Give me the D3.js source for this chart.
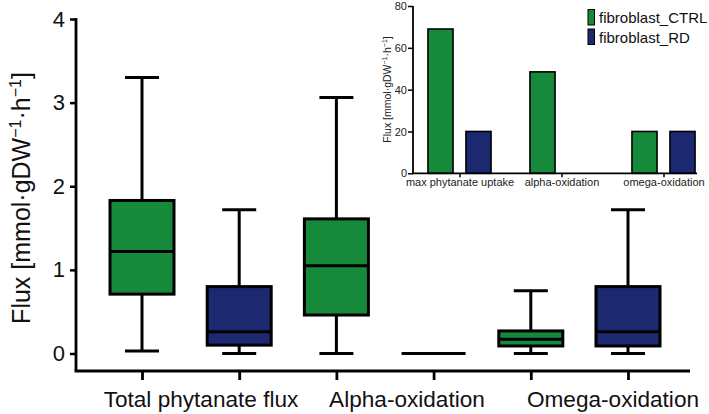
<!DOCTYPE html>
<html><head><meta charset="utf-8">
<script src="https://cdn.jsdelivr.net/npm/d3@7"></script>
<style>
html,body{margin:0;padding:0;background:#fff;}
svg{display:block;font-family:"Liberation Sans",Arial,sans-serif;}
</style></head>
<body>
<svg id="chart" width="709" height="414"></svg>
<script>
// ---- main box plot data ----
const boxKeys = ["Total_CTRL","Total_RD","Alpha_CTRL","Alpha_RD","Omega_CTRL","Omega_RD"];
const boxSeries = ["CTRL","RD","CTRL","RD","CTRL","RD"];
const groupLabels = ["Total phytanate flux","Alpha-oxidation","Omega-oxidation"];
const whiskerLow  = [0.03, 0.00, 0.00, 0.00, 0.00, 0.00];
const q1          = [0.71, 0.10, 0.46, 0.00, 0.09, 0.09];
const median      = [1.22, 0.26, 1.05, 0.00, 0.17, 0.26];
const q3          = [1.83, 0.80, 1.61, 0.00, 0.27, 0.80];
const whiskerHigh = [3.30, 1.72, 3.06, 0.00, 0.75, 1.72];
const yTicks = [0,1,2,3,4];

// ---- inset bar chart data ----
const insetCategories = ["max phytanate uptake","alpha-oxidation","omega-oxidation"];
const insetSeries = ["fibroblast_CTRL","fibroblast_RD"];
const insetCTRL = [69, 48.5, 20];
const insetRD   = [20, 0, 20];
const insetTicks = [0,20,40,60,80];

const colors = {CTRL:"#17893b", RD:"#1c2870", fibroblast_CTRL:"#17893b", fibroblast_RD:"#1c2870"};

const svg = d3.select("#chart");

// ===== main chart =====
const x = d3.scalePoint().domain(boxKeys).range([142, 628]);
const y = d3.scaleLinear().domain([0,4]).range([353.5, 19]);
const boxW = 64, capW = 34, sw = 3;

// axes
const yAxis = svg.append("g").attr("transform","translate(76,0)")
  .call(d3.axisLeft(y).tickValues(yTicks).tickSize(6).tickPadding(5).tickFormat(d3.format("d")));
yAxis.select(".domain").remove();
yAxis.selectAll(".tick line").attr("stroke","#000").attr("stroke-width",2.5);
yAxis.selectAll(".tick text").attr("font-size",22).attr("fill","#111")
  .attr("font-family","Liberation Sans, Arial, sans-serif");
svg.append("line").attr("x1",76).attr("x2",76).attr("y1",y(4)-1).attr("y2",371)
  .attr("stroke","#000").attr("stroke-width",2.8);

const xAxis = svg.append("g").attr("transform","translate(0,371)")
  .call(d3.axisBottom(x).tickSize(9).tickFormat(""));
xAxis.select(".domain").remove();
xAxis.selectAll(".tick line").attr("stroke","#000").attr("stroke-width",2.8);
svg.append("line").attr("x1",74.6).attr("x2",690).attr("y1",371).attr("y2",371)
  .attr("stroke","#000").attr("stroke-width",2.8);

const xg = d3.scalePoint().domain(groupLabels).range([201, 613]);
svg.append("g").selectAll("text").data(groupLabels).join("text")
  .attr("x", d => xg(d)).attr("y", 407).attr("text-anchor","middle")
  .attr("font-size",22.6).attr("fill","#111").text(d => d);

// y label
const yl = svg.append("text").attr("transform","translate(30,198) rotate(-90)")
  .attr("text-anchor","middle").attr("font-size",25).attr("fill","#111");
yl.append("tspan").text("Flux [mmol·gDW");
yl.append("tspan").attr("font-size",16).attr("dy",-9).text("−1");
yl.append("tspan").attr("dy",9).text("·h");
yl.append("tspan").attr("font-size",16).attr("dy",-9).text("−1");
yl.append("tspan").attr("dy",9).text("]");

// boxes
const boxes = svg.append("g").selectAll("g").data(boxKeys).join("g");
boxes.each(function(k,i){
  const g = d3.select(this), cx = x(k);
  g.append("line").attr("x1",cx).attr("x2",cx).attr("y1",y(whiskerHigh[i])).attr("y2",y(q3[i]))
    .attr("stroke","#000").attr("stroke-width",sw);
  g.append("line").attr("x1",cx).attr("x2",cx).attr("y1",y(q1[i])).attr("y2",y(whiskerLow[i]))
    .attr("stroke","#000").attr("stroke-width",sw);
  g.append("line").attr("x1",cx-capW/2).attr("x2",cx+capW/2).attr("y1",y(whiskerHigh[i])).attr("y2",y(whiskerHigh[i]))
    .attr("stroke","#000").attr("stroke-width",sw);
  g.append("line").attr("x1",cx-capW/2).attr("x2",cx+capW/2).attr("y1",y(whiskerLow[i])).attr("y2",y(whiskerLow[i]))
    .attr("stroke","#000").attr("stroke-width",sw);
  if (q3[i] > q1[i]) {
    g.append("rect").attr("x",cx-boxW/2).attr("width",boxW)
      .attr("y",y(q3[i])).attr("height",y(q1[i])-y(q3[i]))
      .attr("fill",colors[boxSeries[i]]).attr("stroke","#000").attr("stroke-width",sw);
  }
  g.append("line").attr("x1",cx-boxW/2).attr("x2",cx+boxW/2).attr("y1",y(median[i])).attr("y2",y(median[i]))
    .attr("stroke","#000").attr("stroke-width",sw);
});

// ===== inset =====
const ix0 = d3.scalePoint().domain(insetCategories).range([459.5, 663.5]);
const ix1 = d3.scaleBand().domain(insetSeries).range([-38,38]).paddingInner(0.34).paddingOuter(0.17);
const iy = d3.scaleLinear().domain([0,80]).range([173.3, 6]);

const insetData = [];
insetCategories.forEach((c,i)=>{
  insetData.push({c, s:insetSeries[0], v:insetCTRL[i]});
  insetData.push({c, s:insetSeries[1], v:insetRD[i]});
});
svg.append("g").selectAll("rect").data(insetData.filter(d=>d.v>0)).join("rect")
  .attr("x", d => ix0(d.c)+ix1(d.s)).attr("width", ix1.bandwidth())
  .attr("y", d => iy(d.v)).attr("height", d => iy(0)-iy(d.v))
  .attr("fill", d => colors[d.s]).attr("stroke","#000").attr("stroke-width",1.6);

const iyAxis = svg.append("g").attr("transform","translate(413,0)")
  .call(d3.axisLeft(iy).tickValues(insetTicks).tickSize(5).tickPadding(1));
iyAxis.select(".domain").remove();
iyAxis.selectAll(".tick line").attr("stroke","#000").attr("stroke-width",1.5);
iyAxis.selectAll(".tick text").attr("font-size",11).attr("fill","#222");
svg.append("line").attr("x1",413).attr("x2",413).attr("y1",iy(80)).attr("y2",iy(0))
  .attr("stroke","#000").attr("stroke-width",1.8);
svg.append("line").attr("x1",412).attr("x2",697).attr("y1",iy(0)).attr("y2",iy(0))
  .attr("stroke","#000").attr("stroke-width",1.8);
const ixAxis = svg.append("g").attr("transform",`translate(0,${iy(0)})`)
  .call(d3.axisBottom(ix0).tickSize(4).tickPadding(1));
ixAxis.select(".domain").remove();
ixAxis.selectAll(".tick line").attr("stroke","#000").attr("stroke-width",1.5);
ixAxis.selectAll(".tick text").attr("font-size",11).attr("fill","#222");

const il = svg.append("text").attr("transform","translate(391,89.5) rotate(-90)")
  .attr("text-anchor","middle").attr("font-size",10.5).attr("fill","#222");
il.append("tspan").text("Flux [mmol·gDW");
il.append("tspan").attr("font-size",7).attr("dy",-4).text("−1");
il.append("tspan").attr("dy",4).text("·h");
il.append("tspan").attr("font-size",7).attr("dy",-4).text("−1");
il.append("tspan").attr("dy",4).text("]");

// legend
const leg = svg.append("g").selectAll("g").data(insetSeries).join("g")
  .attr("transform",(d,i)=>`translate(588,${9.5+i*19.5})`);
leg.append("rect").attr("width",6.5).attr("height",15.5)
  .attr("fill",d=>colors[d]).attr("stroke","#000").attr("stroke-width",1);
leg.append("text").attr("x",11).attr("y",13.5).attr("font-size",15).attr("fill","#111").text(d=>d);
</script>
</body></html>
